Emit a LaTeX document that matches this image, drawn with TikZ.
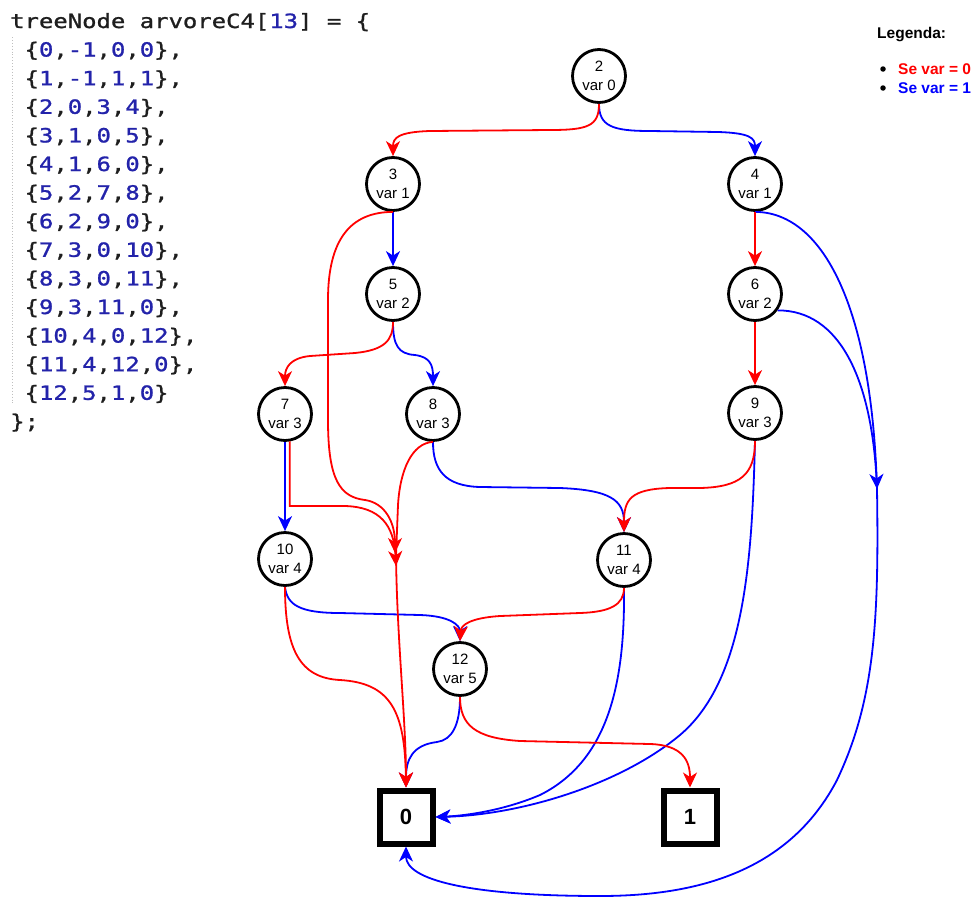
\documentclass[tikz,border=0pt]{standalone}
\usepackage{fontspec}
\setmainfont{Liberation Sans}
\newfontfamily\codefont[FakeStretch=1.22,FakeBold=1.2]{DejaVu Sans Mono}
\usetikzlibrary{arrows.meta}
\definecolor{codeblue}{RGB}{35,35,170}
\definecolor{codeink}{RGB}{30,30,30}
\definecolor{edgered}{RGB}{255,0,0}
\definecolor{edgeblue}{RGB}{0,0,255}
\newcommand\cnum[1]{\textcolor{codeblue}{#1}}
\begin{document}
\begin{tikzpicture}[x=1pt,y=-1pt,
  >={Stealth[length=15pt,width=14pt,inset=4.5pt]},
  bdd/.style={circle, draw, fill=white, line width=2.8pt, minimum size=53pt,
    inner sep=0pt, align=center, font=\fontsize{15}{19}\selectfont},
  term/.style={rectangle, draw, fill=white, line width=6pt, minimum size=53pt,
    inner sep=0pt, font=\fontsize{22}{22}\selectfont\bfseries},
  loedge/.style={draw=edgered, line width=1.8pt},
  hiedge/.style={draw=edgeblue, line width=1.8pt},
  codeline/.style={anchor=base west, inner sep=0pt, text=codeink,
    font=\codefont\fontsize{19.6}{19.6}\selectfont},
  legtext/.style={anchor=west, inner sep=0pt, font=\fontsize{15.5}{15.5}\selectfont\bfseries},
  dot/.style={circle, fill=black, inner sep=0pt, minimum size=5.5pt}]
\useasboundingbox (0,0) rectangle (977,897);

% ---- source listing of the table ----
\draw[black!25, dotted, line width=0.9pt] (12,37) -- (12,405);
\node[codeline] (c1)  at (10,28)    {treeNode arvoreC4[\cnum{13}] = \{};
\node[codeline] (c2)  at (10,56.6)  {\hphantom{\{}\{\cnum{0},\cnum{-1},\cnum{0},\cnum{0}\},};
\node[codeline] (c3)  at (10,85.2)  {\hphantom{\{}\{\cnum{1},\cnum{-1},\cnum{1},\cnum{1}\},};
\node[codeline] (c4)  at (10,113.8) {\hphantom{\{}\{\cnum{2},\cnum{0},\cnum{3},\cnum{4}\},};
\node[codeline] (c5)  at (10,142.4) {\hphantom{\{}\{\cnum{3},\cnum{1},\cnum{0},\cnum{5}\},};
\node[codeline] (c6)  at (10,171)   {\hphantom{\{}\{\cnum{4},\cnum{1},\cnum{6},\cnum{0}\},};
\node[codeline] (c7)  at (10,199.6) {\hphantom{\{}\{\cnum{5},\cnum{2},\cnum{7},\cnum{8}\},};
\node[codeline] (c8)  at (10,228.2) {\hphantom{\{}\{\cnum{6},\cnum{2},\cnum{9},\cnum{0}\},};
\node[codeline] (c9)  at (10,256.8) {\hphantom{\{}\{\cnum{7},\cnum{3},\cnum{0},\cnum{10}\},};
\node[codeline] (c10) at (10,285.4) {\hphantom{\{}\{\cnum{8},\cnum{3},\cnum{0},\cnum{11}\},};
\node[codeline] (c11) at (10,314)   {\hphantom{\{}\{\cnum{9},\cnum{3},\cnum{11},\cnum{0}\},};
\node[codeline] (c12) at (10,342.6) {\hphantom{\{}\{\cnum{10},\cnum{4},\cnum{0},\cnum{12}\},};
\node[codeline] (c13) at (10,371.2) {\hphantom{\{}\{\cnum{11},\cnum{4},\cnum{12},\cnum{0}\},};
\node[codeline] (c14) at (10,399.8) {\hphantom{\{}\{\cnum{12},\cnum{5},\cnum{1},\cnum{0}\}};
\node[codeline] (c15) at (10,428.4) {\};};

% ---- legend ----
\node[legtext] (leg) at (877,35) {Legenda:};
\node[dot] (bl0) at (883,69) {};
\node[dot] (bl1) at (883,88) {};
\node[legtext, text=edgered] (lg0) at (898,69) {Se var = 0};
\node[legtext, text=edgeblue] (lg1) at (898,88) {Se var = 1};

% ---- decision nodes ----
\node[bdd] (n2)  at (599,76)  {2\\var 0};
\node[bdd] (n3)  at (393,184) {3\\var 1};
\node[bdd] (n4)  at (755,184) {4\\var 1};
\node[bdd] (n5)  at (393,294) {5\\var 2};
\node[bdd] (n6)  at (755,294) {6\\var 2};
\node[bdd] (n7)  at (285,414) {7\\var 3};
\node[bdd] (n8)  at (433,414) {8\\var 3};
\node[bdd] (n9)  at (755,413) {9\\var 3};
\node[bdd] (n10) at (285,559) {10\\var 4};
\node[bdd] (n11) at (624,560) {11\\var 4};
\node[bdd] (n12) at (460,669) {12\\var 5};
\node[term] (t0) at (406,817) {0};
\node[term] (t1) at (690,817) {1};

% loose ends where several low/high edges meet
\coordinate (j1) at (395,553);
\coordinate (j2) at (396,566);
\coordinate (j3) at (877,489);

% ---- high (var = 1) edges ----
\draw[hiedge,->] (n2.south) .. controls (599,126) and (612,131) .. (650,131)
  -- (718,132) .. controls (750,133) and (755,138) .. (n4.north);
\draw[hiedge,->] (n3.south) -- (n5.north);
\draw[hiedge,->] (n5.south) .. controls (393,345) and (398,354) .. (415,355)
  .. controls (430,357) and (433,365) .. (n8.north);
\draw[hiedge,->] (n7.south) -- (n10.north);
\draw[hiedge,->] (n8.south) .. controls (433,470) and (445,486) .. (480,487)
  -- (560,488) .. controls (610,490) and (624,500) .. (n11.north);
\draw[hiedge,->] (n10.south) .. controls (287,605) and (300,613) .. (340,613)
  -- (420,615) .. controls (450,616) and (460,625) .. (n12.north);
\draw[hiedge,->] (n12.south) .. controls (460,725) and (452,740) .. (437,742)
  .. controls (412,745) and (406,760) .. (t0.north);
\draw[hiedge,->] (n11.south) .. controls (625,680) and (610,760) .. (540,795)
  .. controls (500,812) and (460,816) .. (t0.east);
\draw[hiedge,->] (n9.south) .. controls (752,560) and (745,680) .. (680,735)
  .. controls (620,785) and (520,815) .. (t0.east);
\draw[hiedge,->] (n4.south) .. controls (820,212) and (870,300) .. (j3);
\draw[hiedge,->] (n6.-36) .. controls (840,310) and (873,380) .. (j3)
  .. controls (879,620) and (875,700) .. (837,780)
  .. controls (790,870) and (700,896) .. (600,896)
  .. controls (470,896) and (406,880) .. (t0.south);

% ---- low (var = 0) edges ----
\draw[loedge,->] (n2.south) .. controls (599,126) and (588,130) .. (550,130)
  -- (430,131) .. controls (398,132) and (393,138) .. (n3.north);
\draw[loedge,->] (n4.south) -- (n6.north);
\draw[loedge,->] (n6.south) -- (n9.north);
\draw[loedge,->] (n5.south) .. controls (393,340) and (385,350) .. (355,353)
  -- (310,356) .. controls (290,358) and (285,368) .. (n7.north);
\draw[loedge,->] (n9.south) .. controls (755,475) and (740,487) .. (700,488)
  -- (670,488) .. controls (630,489) and (624,500) .. (n11.north);
\draw[loedge,->] (n8.south) .. controls (412,443) and (400,470) .. (398,505)
  -- (396,556) .. controls (397,640) and (406,720) .. (t0.north);
\draw[loedge,->] (n3.south) .. controls (350,212) and (328,240) .. (328,300)
  -- (328,420) .. controls (328,480) and (340,497) .. (365,500)
  .. controls (385,503) and (395,522) .. (j1);
\draw[loedge,->] (n7.-80) |- (345,506) .. controls (380,507) and (394,525) .. (j2);
\draw[loedge,->] (n10.south) .. controls (285,650) and (300,678) .. (340,680)
  .. controls (390,683) and (405,710) .. (t0.north);
\draw[loedge,->] (n11.south) .. controls (624,605) and (610,612) .. (580,613)
  -- (500,616) .. controls (470,618) and (461,625) .. (n12.north);
\draw[loedge,->] (n12.south) .. controls (460,725) and (475,738) .. (520,741)
  -- (650,744) .. controls (682,745) and (690,760) .. (t1.north);
\end{tikzpicture}
\end{document}
